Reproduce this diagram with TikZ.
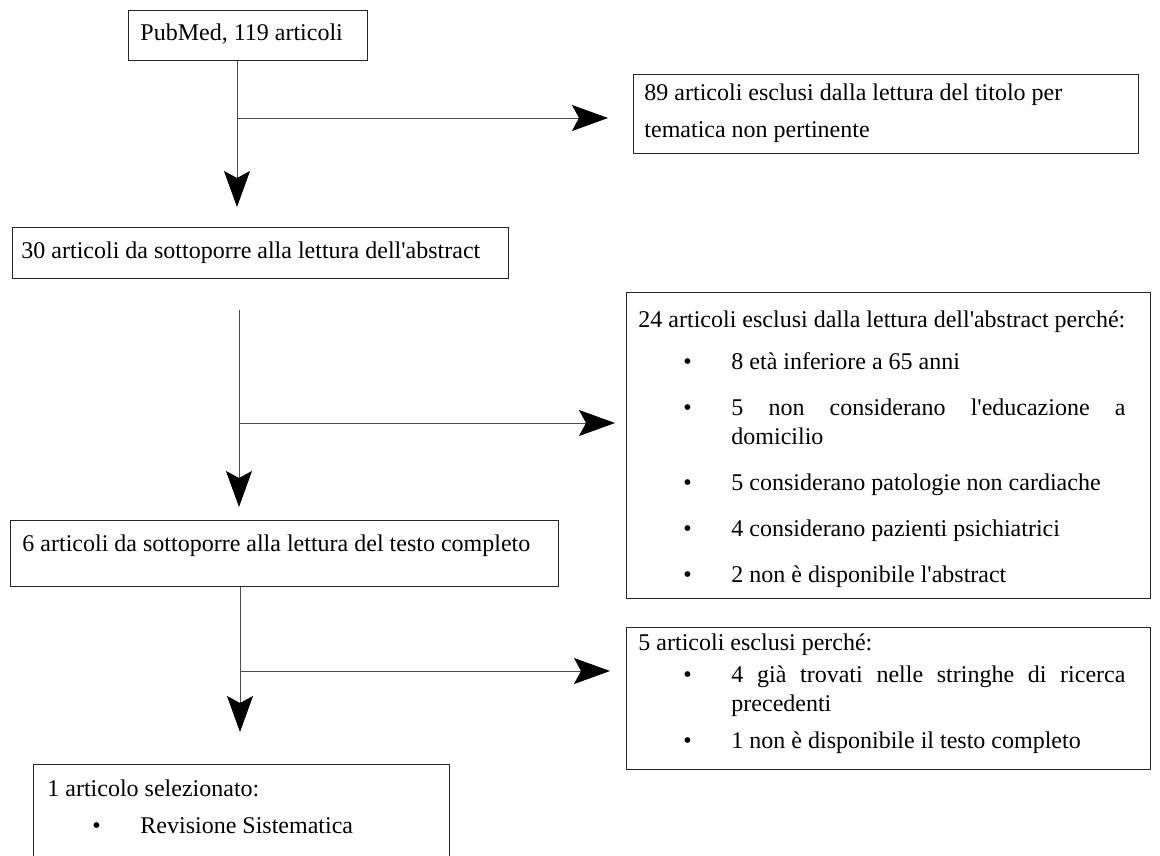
\documentclass[tikz,border=0pt]{standalone}
\usepackage{fontspec}
\setmainfont{Liberation Serif}
\usetikzlibrary{arrows.meta, positioning, calc}

% testo dentro un riquadro: larghezza, altezza, margine sx, margine dx, testo
\newcommand{\corpo}[5]{\parbox[c][#2][t]{#1}{\leftskip=#3\rightskip=#4\parindent=0pt%
  \hyphenpenalty=10000\tolerance=10000\hbadness=10000 #5}}
% voce di elenco puntato
\newcommand{\voce}[2]{\par\vspace{#1}\noindent\hangindent=93pt\hangafter=1%
  \strut\makebox[93pt][l]{\hspace{45pt}\textbullet}#2}
\newcommand{\ap}{\textquotesingle}

\begin{document}
\begin{tikzpicture}[x=1pt, y=-1pt,
    font=\fontsize{24}{29}\selectfont,
    riquadro/.style={draw=black!85, line width=0.9pt, anchor=north west, inner sep=0pt},
    freccia/.style={draw=black!70, line width=0.9pt, -{Stealth[length=36pt, width=26pt, inset=7pt, black]}}]
    \useasboundingbox (0,0) rectangle (1160,855);
    \begin{scope}
    \clip (0,0) rectangle (1160,855);

    \node[riquadro] (pubmed) at (128,10)
        {\corpo{239pt}{50pt}{12pt}{2pt}{\vspace*{10pt}\strut PubMed, 119 articoli}};
    \node[riquadro] (titolo) at (633,74)
        {\corpo{505pt}{79pt}{11pt}{2pt}{\fontsize{24}{37}\selectfont\strut
         89 articoli esclusi dalla lettura del titolo per\\tematica non pertinente}};
    \node[riquadro] (abstract) at (12,227)
        {\corpo{496pt}{51pt}{9pt}{2pt}{\vspace*{11pt}\strut 30 articoli da sottoporre alla lettura dell\ap abstract}};
    \node[riquadro] (esclusiabs) at (626,292)
        {\corpo{524pt}{306pt}{12pt}{25pt}{\vspace*{15pt}\strut
         \mbox{24 articoli esclusi dalla lettura dell\ap abstract perché:}
         \voce{13pt}{8 età inferiore a 65 anni}
         \voce{17pt}{5 non considerano l\ap educazione a domicilio}
         \voce{17pt}{5 considerano patologie non cardiache}
         \voce{17pt}{4 considerano pazienti psichiatrici}
         \voce{17pt}{2 non è disponibile l\ap abstract}}};
    \node[riquadro] (testo) at (10,520)
        {\corpo{548pt}{66pt}{12pt}{2pt}{\vspace*{11pt}\strut 6 articoli da sottoporre alla lettura del testo completo}};
    \node[riquadro] (esclusitesto) at (626,627)
        {\corpo{524pt}{142pt}{12pt}{25pt}{\vspace*{3pt}\strut
         5 articoli esclusi perché:
         \voce{3pt}{4 già trovati nelle stringhe di ricerca precedenti}
         \voce{8pt}{1 non è disponibile il testo completo}}};
    \node[riquadro] (selezionato) at (33,764)
        {\corpo{416pt}{120pt}{14pt}{2pt}{\vspace*{12pt}\strut
         1 articolo selezionato:
         \voce{8pt}{Revisione Sistematica}}};

    \coordinate (k1) at (237,118);
    \coordinate (t1) at (237,207);
    \coordinate (r1) at (608,118);
    \coordinate (s2) at (239,310);
    \coordinate (k2) at (239,423);
    \coordinate (t2) at (239,507);
    \coordinate (r2) at (615,423);
    \coordinate (k3) at (240,671);
    \coordinate (t3) at (240,732);
    \coordinate (r3) at (610,671);

    \draw[freccia] (pubmed.south -| k1) -- (t1);
    \draw[freccia] (k1) -- (r1);
    \draw[freccia] (s2) -- (t2);
    \draw[freccia] (k2) -- (r2);
    \draw[freccia] (testo.south -| k3) -- (t3);
    \draw[freccia] (k3) -- (r3);
    \end{scope}
\end{tikzpicture}
\end{document}
